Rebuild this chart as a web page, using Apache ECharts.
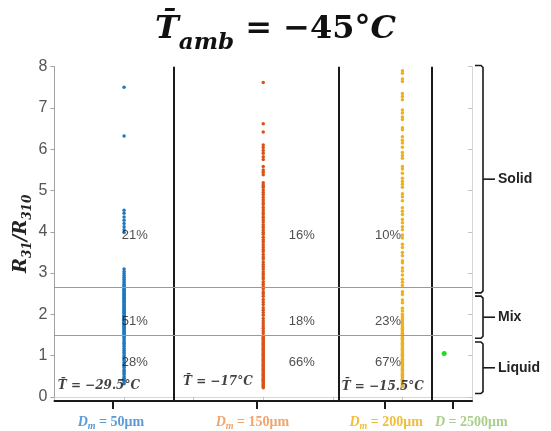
<!DOCTYPE html>
<html><head><meta charset="utf-8">
<script src="https://cdn.jsdelivr.net/npm/echarts@6/dist/echarts.min.js"></script>
<style>html,body{margin:0;padding:0;background:#fff}#c{width:551px;height:431px}</style>
</head><body><div id="c"></div>
<script>
// ---------------- DATA ----------------
const categories = ['D_m = 50μm', 'D_m = 150μm', 'D_m = 200μm', 'D = 2500μm'];
const yTickValues = [0, 1, 2, 3, 4, 5, 6, 7, 8];
const phaseBoundaries = [2.65, 1.5];
const phaseNames = ['Solid', 'Mix', 'Liquid'];
const solidPct = ['21%', '16%', '10%'];
const mixPct = ['51%', '18%', '23%'];
const liquidPct = ['28%', '66%', '67%'];
const meanTemps = ['T̄ = −29.5°C', 'T̄ = −17°C', 'T̄ = −15.5°C'];

const blueValues = [7.5, 6.32, 4.52, 4.45, 4.36, 4.28, 4.2, 4.12, 4.05, 3.98,
  3.1, 3.04, 2.99, 2.94, 2.9, 2.85, 2.81, 2.77, 2.73, 2.69, 2.66,
  2.64, 2.61, 2.59, 2.57, 2.55, 2.52, 2.5, 2.48, 2.46, 2.43, 2.41, 2.39, 2.37, 2.34, 2.32,
  2.3, 2.28, 2.25, 2.23, 2.21, 2.19, 2.16, 2.14, 2.12, 2.1, 2.07, 2.05, 2.03, 2.01, 1.98,
  1.96, 1.94, 1.92, 1.89, 1.87, 1.85, 1.83, 1.8, 1.78, 1.76, 1.74, 1.71, 1.69, 1.67, 1.65,
  1.62, 1.6, 1.58, 1.56, 1.53, 1.51,
  1.47, 1.43, 1.39, 1.34, 1.3, 1.26, 1.22, 1.17, 1.13, 1.09, 1.05, 1.0, 0.96, 0.92, 0.88,
  0.83, 0.79, 0.75, 0.71, 0.66, 0.62, 0.58, 0.54, 0.49, 0.45, 0.41, 0.37, 0.32];

const orangeValues = [7.62, 6.62, 6.42, 6.1, 6.04, 5.97, 5.9, 5.82, 5.75, 5.58, 5.5, 5.44, 5.38,
  5.19, 5.13, 5.08, 5.01, 4.95, 4.9, 4.83, 4.77, 4.71, 4.66, 4.59, 4.53, 4.47, 4.42, 4.35,
  4.29, 4.24, 4.17, 4.11, 4.05, 3.99, 3.94, 3.87, 3.81, 3.76, 3.69, 3.63, 3.57, 3.52, 3.45,
  3.39, 3.34, 3.27, 3.21, 3.15, 3.1, 3.03, 2.97, 2.91, 2.86, 2.79, 2.73, 2.67,
  2.62, 2.55, 2.5, 2.44, 2.36, 2.3, 2.24, 2.16, 2.1, 2.04, 1.98, 1.9, 1.84, 1.78, 1.72,
  1.66, 1.6, 1.55,
  1.48, 1.45, 1.42, 1.39, 1.36, 1.33, 1.3, 1.27, 1.24, 1.21, 1.18, 1.15, 1.12, 1.09, 1.06,
  1.03, 1.0, 0.97, 0.94, 0.91, 0.88, 0.85, 0.82, 0.79, 0.76, 0.73, 0.7, 0.67, 0.64, 0.61,
  0.58, 0.55, 0.52, 0.49, 0.46, 0.43, 0.4, 0.37, 0.34, 0.31, 0.28, 0.25, 0.22];

const yellowValues = [7.9, 7.84, 7.7, 7.64, 7.35, 7.28, 7.2, 6.95, 6.88, 6.78, 6.72, 6.52, 6.47,
  6.3, 6.22, 6.15, 6.05, 5.92, 5.85, 5.78, 5.58, 5.52, 5.42, 5.3, 5.22, 5.15, 5.08, 4.92,
  4.85, 4.75, 4.58, 4.5, 4.42, 4.3, 4.22, 4.12, 4.05, 3.92, 3.85, 3.7, 3.62, 3.5, 3.42,
  3.3, 3.25, 3.12, 3.05, 2.95, 2.85, 2.78, 2.7,
  2.55, 2.48, 2.35, 2.28, 2.15, 2.08, 2.0, 1.95, 1.9, 1.86, 1.82,
  1.78, 1.75, 1.72, 1.69, 1.66, 1.63, 1.6, 1.57, 1.54, 1.51,
  1.48, 1.45, 1.42, 1.39, 1.36, 1.33, 1.3, 1.27, 1.24, 1.21, 1.18, 1.15, 1.12, 1.09, 1.06,
  1.03, 1.0, 0.97, 0.94, 0.91, 0.88, 0.85, 0.82, 0.79, 0.76, 0.73, 0.7, 0.67, 0.64, 0.61,
  0.58, 0.55, 0.52, 0.49, 0.46, 0.43, 0.4, 0.37, 0.34, 0.31, 0.28, 0.25];

const greenValues = [1.05];

// ---------------- LAYOUT / STYLE ----------------
const LAYOUT = {
  xMin: 0, xMax: 3, yMin: -0.1, yMax: 8,
  groupX: [0.5, 1.5, 2.5, 2.8],
  tickX: [0.42, 1.45, 2.37, 2.86],
  labelX: [0.405, 1.422, 2.383, 2.995],
  dividerX: [0.863, 2.036, 2.71],
  pctX: [0.48, 1.68, 2.30],
  pctY: [3.9, 1.84, 0.84],
  tempXY: [[0.02, 0.27], [0.92, 0.37], [2.06, 0.25]],
  bracket: [[8.03, 2.52], [2.44, 1.42], [1.33, 0.08]]
};
const dotColors = ['#1f78c1', '#d95319', '#edb120', '#2bd62b'];
const labelColors = ['#5b9bd5', '#f2a46c', '#f0be3c', '#a9cf8c'];
const SERIF = "'Liberation Serif','DejaVu Serif',serif";
const DSERIF = "'DejaVu Serif',serif";
const SANS = "'Liberation Sans','Open Sans',sans-serif";

const groups = [blueValues, orangeValues, yellowValues, greenValues];

const rich = {};
labelColors.forEach((c, i) => {
  rich['b' + i] = {color: c, fontFamily: SERIF, fontWeight: 'bold', fontStyle: 'italic', fontSize: 14, lineHeight: 18};
  rich['s' + i] = {color: c, fontFamily: SERIF, fontWeight: 'bold', fontStyle: 'italic', fontSize: 10, verticalAlign: 'bottom'};
  rich['n' + i] = {color: c, fontFamily: SERIF, fontWeight: 'bold', fontSize: 14, lineHeight: 18};
});
function catLabel(v) {
  let idx = 0, best = 1e9;
  LAYOUT.labelX.forEach((x, i) => { const d = Math.abs(x - v); if (d < best) { best = d; idx = i; } });
  const t = categories[idx];
  const m = t.match(/^(\w)_(\w)(.*)$/);
  if (m) return `{b${idx}|${m[1]}}{s${idx}|${m[2]}}{n${idx}|${m[3]}}`;
  return `{b${idx}|${t[0]}}{n${idx}|${t.slice(1)}}`;
}

const scatterSeries = groups.map((vals, gi) => ({
  type: 'scatter',
  xAxisIndex: 0, yAxisIndex: 0,
  symbolSize: gi === 3 ? 5 : 3.5,
  itemStyle: {color: dotColors[gi], opacity: 1},
  data: vals.map(v => [LAYOUT.groupX[gi], v]),
  silent: true, z: 3
}));

scatterSeries[0].markLine = {
  silent: true, symbol: 'none', label: {show: false}, animation: false,
  data: [
    ...LAYOUT.dividerX.map(x => ({xAxis: x, lineStyle: {color: '#1a1a1a', width: 2, type: 'solid'}})),
    ...phaseBoundaries.map(y => ({yAxis: y, lineStyle: {color: '#9a9a9a', width: 1, type: 'solid'}}))
  ]
};

const pctData = [];
[solidPct, mixPct, liquidPct].forEach((arr, r) => arr.forEach((t, c) => pctData.push([LAYOUT.pctX[c], LAYOUT.pctY[r], t])));
const tempData = meanTemps.map((t, i) => [LAYOUT.tempXY[i][0], LAYOUT.tempXY[i][1], t]);

const textSeries = (data, labelStyle) => ({
  type: 'scatter', symbolSize: 1, itemStyle: {color: 'rgba(0,0,0,0)'}, silent: true, z: 5,
  data,
  label: Object.assign({show: true, position: 'right', distance: 0, formatter: p => p.value[2]}, labelStyle)
});

const bracketSeries = {
  type: 'custom', clip: false, silent: true, z: 6,
  data: LAYOUT.bracket.map((b, i) => [LAYOUT.xMax, b[0], b[1], i]),
  encode: {x: 0, y: 1},
  renderItem: function (params, api) {
    const top = api.coord([api.value(0), api.value(1)]);
    const bot = api.coord([api.value(0), api.value(2)]);
    const xr = top[0];
    const x0 = xr + 3, x1 = xr + 11, mid = (top[1] + bot[1]) / 2;
    const st = {stroke: '#1a1a1a', lineWidth: 1.6, fill: null};
    return {
      type: 'group', children: [
        {type: 'polyline', shape: {points: [[x0, top[1]], [x1 - 2, top[1]], [x1, top[1] + 2], [x1, bot[1] - 2], [x1 - 2, bot[1]], [x0, bot[1]]]}, style: st},
        {type: 'line', shape: {x1: x1, y1: mid, x2: x1 + 12, y2: mid}, style: st},
        {type: 'text', style: {text: phaseNames[api.value(3)], x: x1 + 15, y: mid, verticalAlign: 'middle', align: 'left',
          font: "bold 14px 'Liberation Sans', sans-serif", fill: '#222'}}
      ]
    };
  }
};

const option = {
  animation: false,
  backgroundColor: '#fff',
  title: {
    left: 'center', top: 0,
    text: '{t|T̄}{s|amb}{e| = −45°}{c|C}',
    textStyle: {
      rich: {
        t: {fontFamily: DSERIF, fontSize: 32, fontWeight: 'bold', fontStyle: 'italic', color: '#111', lineHeight: 50},
        s: {fontFamily: DSERIF, fontSize: 23, fontWeight: 'bold', fontStyle: 'italic', color: '#111', verticalAlign: 'bottom'},
        e: {fontFamily: DSERIF, fontSize: 32, fontWeight: 'bold', color: '#111', lineHeight: 50},
        c: {fontFamily: DSERIF, fontSize: 32, fontWeight: 'bold', fontStyle: 'italic', color: '#111', lineHeight: 50}
      }
    }
  },
  grid: {left: 54.5, right: 79, top: 66.7, bottom: 30, containLabel: false},
  xAxis: [{
    type: 'value', position: 'bottom', min: LAYOUT.xMin, max: LAYOUT.xMax,
    axisLine: {show: true, onZero: false, lineStyle: {color: '#1a1a1a', width: 2}},
    axisTick: {show: true, customValues: LAYOUT.tickX, length: 8, inside: false, lineStyle: {color: '#1a1a1a', width: 2}},
    axisLabel: {show: true, customValues: LAYOUT.labelX, formatter: catLabel, margin: 12, rich: rich},
    splitLine: {show: false}
  }, {
    type: 'value', position: 'top', min: 0, max: LAYOUT.xMax, interval: 0.5,
    axisLine: {show: true, lineStyle: {color: '#d6d6d6', width: 1}},
    axisTick: {show: true, inside: true, length: 3, lineStyle: {color: '#c4c4c4'}},
    axisLabel: {show: false}, splitLine: {show: false}
  }],
  yAxis: [{
    type: 'value', min: LAYOUT.yMin, max: LAYOUT.yMax, position: 'left',
    name: '{r|R}{s|31}{r|/R}{s|310}', nameLocation: 'middle', nameGap: 21, nameRotate: 90,
    nameMoveOverlap: false,
    nameTextStyle: {rich: {
      r: {fontFamily: DSERIF, fontSize: 18, fontWeight: 'bold', fontStyle: 'italic', color: '#222', lineHeight: 24},
      s: {fontFamily: DSERIF, fontSize: 12, fontWeight: 'bold', fontStyle: 'italic', color: '#222', verticalAlign: 'bottom'}
    }},
    axisLine: {show: true, onZero: false, lineStyle: {color: '#a0a0a0', width: 1}},
    axisTick: {show: true, customValues: yTickValues, length: 4, lineStyle: {color: '#a0a0a0'}},
    axisLabel: {show: true, customValues: yTickValues, fontSize: 16, color: '#555', fontFamily: SANS, margin: 7},
    splitLine: {show: false}
  }, {
    type: 'value', min: LAYOUT.yMin, max: LAYOUT.yMax, position: 'right',
    axisLine: {show: true, onZero: false, lineStyle: {color: '#d6d6d6', width: 1}},
    axisTick: {show: true, inside: true, customValues: yTickValues, length: 4, lineStyle: {color: '#c4c4c4'}},
    axisLabel: {show: false}, splitLine: {show: false}
  }],
  series: [
    ...scatterSeries,
    textSeries(pctData, {fontSize: 13, color: '#222', fontFamily: SANS}),
    textSeries(tempData, {fontSize: 12, color: '#111', fontFamily: DSERIF, fontWeight: 'bold', fontStyle: 'italic'}),
    bracketSeries
  ]
};

const chart = echarts.init(document.getElementById('c'), null, {renderer: 'canvas'});
chart.setOption(option);
</script>
</body></html>
